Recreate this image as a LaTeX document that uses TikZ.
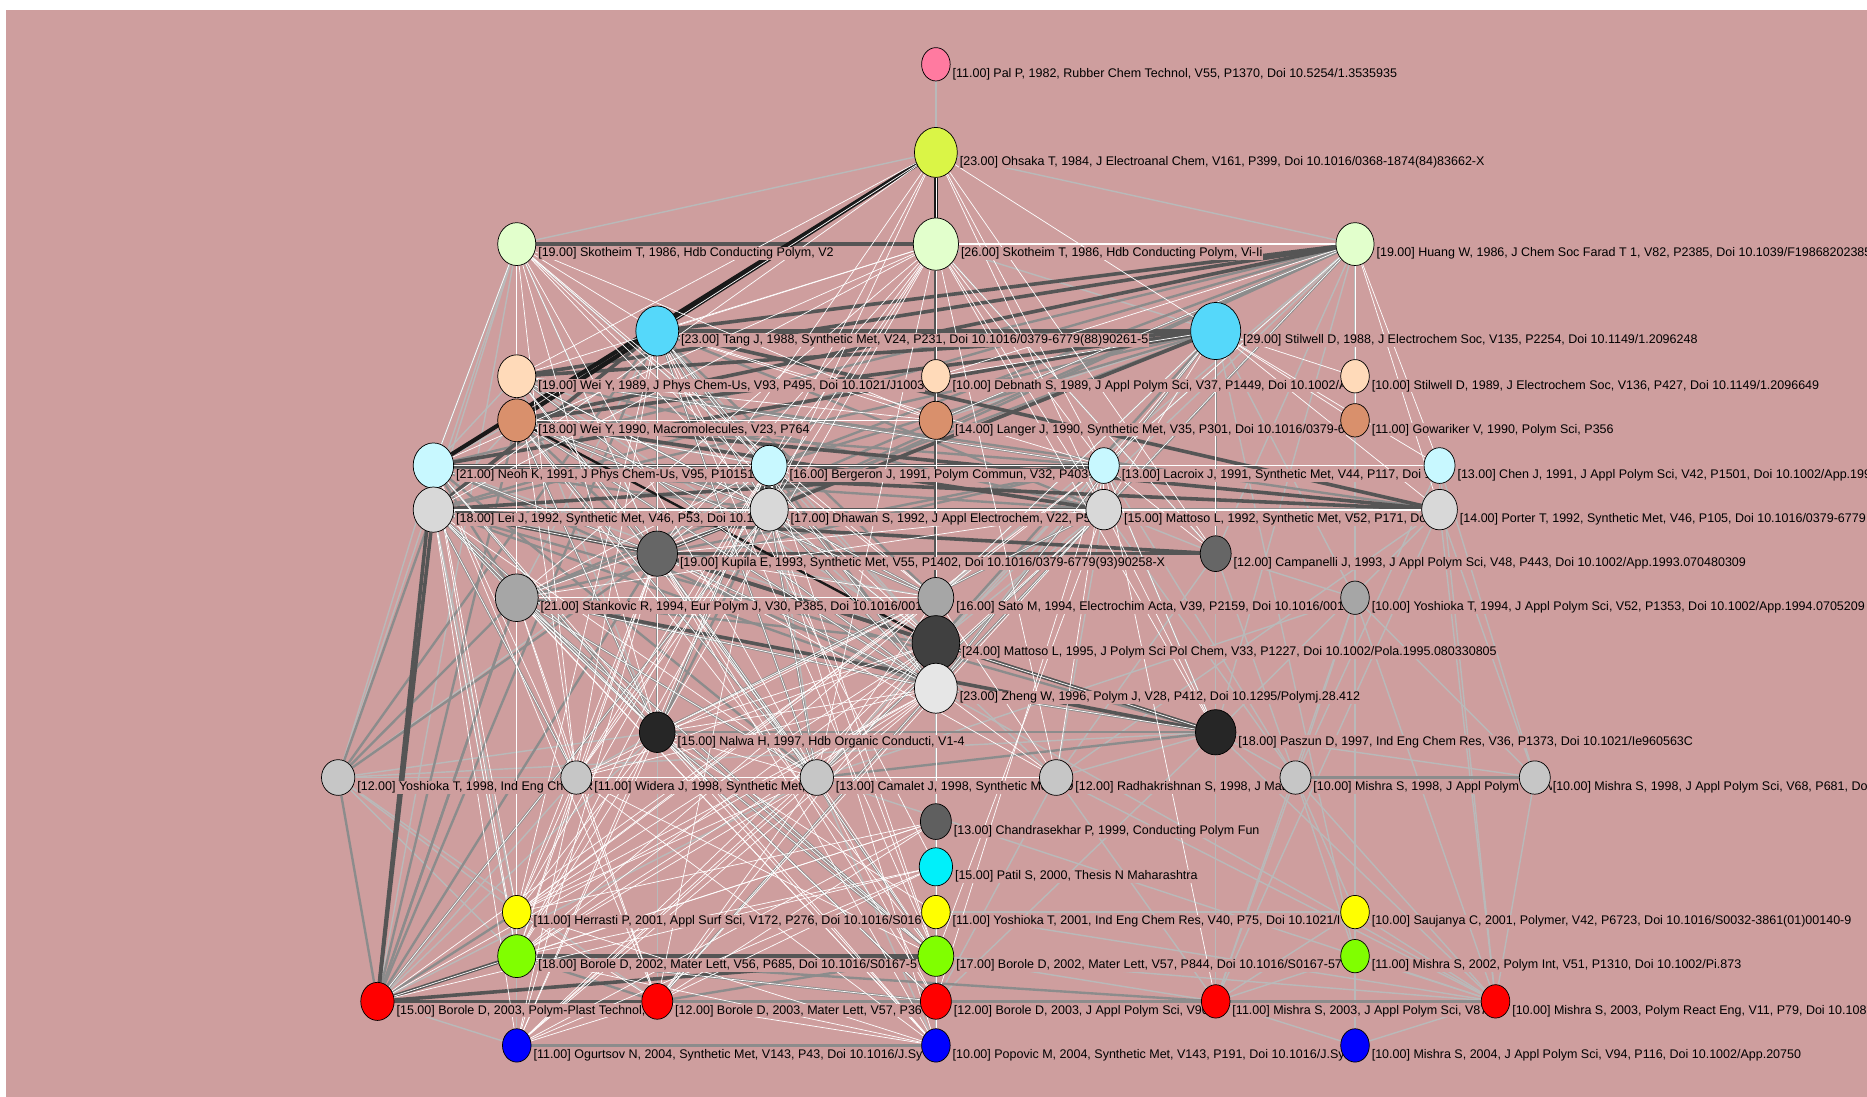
\documentclass[tikz,border=0pt]{standalone}
\usepackage{fontspec}
\setmainfont{Liberation Sans}
\usetikzlibrary{shapes.geometric, positioning}
\pgfdeclarelayer{edges}
\pgfdeclarelayer{texts}
\pgfsetlayers{edges,texts,main}

\definecolor{bgpink}{RGB}{206,158,158}
\definecolor{cPal}{RGB}{255,122,160}
\definecolor{cOhs}{RGB}{218,245,70}
\definecolor{cCream}{RGB}{226,255,204}
\definecolor{cCyan}{RGB}{85,216,250}
\definecolor{cPeach}{RGB}{255,218,185}
\definecolor{cBrown}{RGB}{217,144,108}
\definecolor{cLCyan}{RGB}{200,248,255}
\definecolor{cLGray}{RGB}{216,216,216}
\definecolor{cDGray}{RGB}{102,102,102}
\definecolor{cMGray}{RGB}{166,166,166}
\definecolor{cDD}{RGB}{64,64,64}
\definecolor{cVL}{RGB}{230,230,230}
\definecolor{cBlk}{RGB}{38,38,38}
\definecolor{cSG}{RGB}{198,198,198}
\definecolor{cCha}{RGB}{95,95,95}
\definecolor{cPat}{RGB}{0,240,250}
\definecolor{cYel}{RGB}{255,255,0}
\definecolor{cGrn}{RGB}{128,255,0}
\definecolor{cRed}{RGB}{255,0,0}
\definecolor{cBlu}{RGB}{0,0,255}
\definecolor{eL}{RGB}{185,185,185}
\definecolor{eM}{RGB}{140,140,140}
\definecolor{eD}{RGB}{85,85,85}
\definecolor{eB}{RGB}{25,25,25}

\tikzset{
  cit/.style={ellipse, draw=black, line width=0.6pt, inner sep=0pt},
  nsize/.style 2 args={minimum width=#1, minimum height=#2},
  lbl/.style={fill=bgpink, inner sep=0.6pt, font=\fontsize{10.5}{12}\selectfont, right=1pt of #1, yshift=-8pt},
  wline/.style={white, line width=0.6pt},
  lline/.style={eL, line width=1.2pt},
  mline/.style={eM, line width=2pt},
  dline/.style={eD, line width=3pt},
  bline/.style={eB, line width=3.5pt}
}

\begin{document}
\begin{tikzpicture}[x=1pt, y=-1pt]
  \useasboundingbox (0,0) rectangle (1568,921);

  % citation nodes
  \draw (786,54) node[cit, nsize={24}{28}, fill=cPal] (pal) {}
    (786,128) node[cit, nsize={36}{42}, fill=cOhs] (ohs) {}
    (434,205) node[cit, nsize={32}{36}, fill=cCream] (skoA) {}
    (786,205) node[cit, nsize={38}{44}, fill=cCream] (skoB) {}
    (1138,205) node[cit, nsize={32}{36}, fill=cCream] (hua) {}
    (552,278) node[cit, nsize={36}{42}, fill=cCyan] (tan) {}
    (1021,278) node[cit, nsize={42}{48}, fill=cCyan] (stiA) {}
    (434,316) node[cit, nsize={32}{36}, fill=cPeach] (weiA) {}
    (786,316) node[cit, nsize={24}{28}, fill=cPeach] (deb) {}
    (1138,316) node[cit, nsize={24}{28}, fill=cPeach] (stiB) {}
    (434,353) node[cit, nsize={32}{36}, fill=cBrown] (weiB) {}
    (786,353) node[cit, nsize={28}{32}, fill=cBrown] (lan) {}
    (1138,353) node[cit, nsize={24}{28}, fill=cBrown] (gow) {}
    (364,391) node[cit, nsize={34}{38}, fill=cLCyan] (neo) {}
    (646,391) node[cit, nsize={30}{34}, fill=cLCyan] (ber) {}
    (927,391) node[cit, nsize={26}{30}, fill=cLCyan] (lac) {}
    (1209,391) node[cit, nsize={26}{30}, fill=cLCyan] (che) {}
    (364,428) node[cit, nsize={34}{38}, fill=cLGray] (lei) {}
    (646,428) node[cit, nsize={32}{36}, fill=cLGray] (dha) {}
    (927,428) node[cit, nsize={30}{34}, fill=cLGray] (matA) {}
    (1209,428) node[cit, nsize={30}{34}, fill=cLGray] (por) {}
    (552,465) node[cit, nsize={34}{38}, fill=cDGray] (kup) {}
    (1021,465) node[cit, nsize={26}{30}, fill=cDGray] (cam) {}
    (434,502) node[cit, nsize={36}{40}, fill=cMGray] (sta) {}
    (786,502) node[cit, nsize={30}{34}, fill=cMGray] (sat) {}
    (1138,502) node[cit, nsize={24}{28}, fill=cMGray] (yosA) {}
    (786,540) node[cit, nsize={40}{46}, fill=cDD] (matB) {}
    (786,578) node[cit, nsize={36}{42}, fill=cVL] (zhe) {}
    (552,615) node[cit, nsize={30}{34}, fill=cBlk] (nal) {}
    (1021,615) node[cit, nsize={34}{38}, fill=cBlk] (pas) {}
    (284,653) node[cit, nsize={28}{30}, fill=cSG] (yosB) {}
    (484,653) node[cit, nsize={26}{28}, fill=cSG] (wid) {}
    (686,653) node[cit, nsize={28}{30}, fill=cSG] (cml) {}
    (887,653) node[cit, nsize={28}{30}, fill=cSG] (rad) {}
    (1088,653) node[cit, nsize={26}{28}, fill=cSG] (misA) {}
    (1289,653) node[cit, nsize={26}{28}, fill=cSG] (misB) {}
    (786,690) node[cit, nsize={26}{30}, fill=cCha] (cha) {}
    (786,728) node[cit, nsize={28}{32}, fill=cPat] (pat) {}
    (434,766) node[cit, nsize={24}{28}, fill=cYel] (her) {}
    (786,766) node[cit, nsize={24}{28}, fill=cYel] (yosC) {}
    (1138,766) node[cit, nsize={24}{28}, fill=cYel] (sau) {}
    (434,803) node[cit, nsize={32}{36}, fill=cGrn] (borA) {}
    (786,803) node[cit, nsize={30}{34}, fill=cGrn] (borB) {}
    (1138,803) node[cit, nsize={24}{28}, fill=cGrn] (misC) {}
    (317,841) node[cit, nsize={28}{32}, fill=cRed] (borC) {}
    (552,841) node[cit, nsize={26}{30}, fill=cRed] (borD) {}
    (786,841) node[cit, nsize={26}{30}, fill=cRed] (borE) {}
    (1021,841) node[cit, nsize={24}{28}, fill=cRed] (misD) {}
    (1256,841) node[cit, nsize={24}{28}, fill=cRed] (misE) {}
    (434,878) node[cit, nsize={24}{28}, fill=cBlu] (ogu) {}
    (786,878) node[cit, nsize={24}{28}, fill=cBlu] (pop) {}
    (1138,878) node[cit, nsize={24}{28}, fill=cBlu] (misF) {};

  % labels
  \begin{pgfonlayer}{texts}
    \node[lbl=pal] (pal-t) {[11.00] Pal P, 1982, Rubber Chem Technol, V55, P1370, Doi 10.5254/1.3535935};
    \node[lbl=ohs] (ohs-t) {[23.00] Ohsaka T, 1984, J Electroanal Chem, V161, P399, Doi 10.1016/0368-1874(84)83662-X};
    \node[lbl=skoA] (skoA-t) {[19.00] Skotheim T, 1986, Hdb Conducting Polym, V2};
    \node[lbl=skoB] (skoB-t) {[26.00] Skotheim T, 1986, Hdb Conducting Polym, Vi-Ii};
    \node[lbl=hua] (hua-t) {[19.00] Huang W, 1986, J Chem Soc Farad T 1, V82, P2385, Doi 10.1039/F19868202385};
    \node[lbl=tan] (tan-t) {[23.00] Tang J, 1988, Synthetic Met, V24, P231, Doi 10.1016/0379-6779(88)90261-5};
    \node[lbl=stiA] (stiA-t) {[29.00] Stilwell D, 1988, J Electrochem Soc, V135, P2254, Doi 10.1149/1.2096248};
    \node[lbl=weiA] (weiA-t) {[19.00] Wei Y, 1989, J Phys Chem-Us, V93, P495, Doi 10.1021/J1003};
    \node[lbl=deb] (deb-t) {[10.00] Debnath S, 1989, J Appl Polym Sci, V37, P1449, Doi 10.1002/A};
    \node[lbl=stiB] (stiB-t) {[10.00] Stilwell D, 1989, J Electrochem Soc, V136, P427, Doi 10.1149/1.2096649};
    \node[lbl=weiB] (weiB-t) {[18.00] Wei Y, 1990, Macromolecules, V23, P764};
    \node[lbl=lan] (lan-t) {[14.00] Langer J, 1990, Synthetic Met, V35, P301, Doi 10.1016/0379-6};
    \node[lbl=gow] (gow-t) {[11.00] Gowariker V, 1990, Polym Sci, P356};
    \node[lbl=neo] (neo-t) {[21.00] Neoh K, 1991, J Phys Chem-Us, V95, P10151,};
    \node[lbl=ber] (ber-t) {[16.00] Bergeron J, 1991, Polym Commun, V32, P403};
    \node[lbl=lac] (lac-t) {[13.00] Lacroix J, 1991, Synthetic Met, V44, P117, Doi 1};
    \node[lbl=che] (che-t) {[13.00] Chen J, 1991, J Appl Polym Sci, V42, P1501, Doi 10.1002/App.1991};
    \node[lbl=lei] (lei-t) {[18.00] Lei J, 1992, Synthetic Met, V46, P53, Doi 10.1};
    \node[lbl=dha] (dha-t) {[17.00] Dhawan S, 1992, J Appl Electrochem, V22, P5};
    \node[lbl=matA] (matA-t) {[15.00] Mattoso L, 1992, Synthetic Met, V52, P171, Do};
    \node[lbl=por] (por-t) {[14.00] Porter T, 1992, Synthetic Met, V46, P105, Doi 10.1016/0379-6779};
    \node[lbl=kup] (kup-t) {[19.00] Kupila E, 1993, Synthetic Met, V55, P1402, Doi 10.1016/0379-6779(93)90258-X};
    \node[lbl=cam] (cam-t) {[12.00] Campanelli J, 1993, J Appl Polym Sci, V48, P443, Doi 10.1002/App.1993.070480309};
    \node[lbl=sta] (sta-t) {[21.00] Stankovic R, 1994, Eur Polym J, V30, P385, Doi 10.1016/001};
    \node[lbl=sat] (sat-t) {[16.00] Sato M, 1994, Electrochim Acta, V39, P2159, Doi 10.1016/001};
    \node[lbl=yosA] (yosA-t) {[10.00] Yoshioka T, 1994, J Appl Polym Sci, V52, P1353, Doi 10.1002/App.1994.0705209};
    \node[lbl=matB] (matB-t) {[24.00] Mattoso L, 1995, J Polym Sci Pol Chem, V33, P1227, Doi 10.1002/Pola.1995.080330805};
    \node[lbl=zhe] (zhe-t) {[23.00] Zheng W, 1996, Polym J, V28, P412, Doi 10.1295/Polymj.28.412};
    \node[lbl=nal] (nal-t) {[15.00] Nalwa H, 1997, Hdb Organic Conducti, V1-4};
    \node[lbl=pas] (pas-t) {[18.00] Paszun D, 1997, Ind Eng Chem Res, V36, P1373, Doi 10.1021/Ie960563C};
    \node[lbl=yosB] (yosB-t) {[12.00] Yoshioka T, 1998, Ind Eng Chem R};
    \node[lbl=wid] (wid-t) {[11.00] Widera J, 1998, Synthetic Met, V9};
    \node[lbl=cml] (cml-t) {[13.00] Camalet J, 1998, Synthetic Met, V9};
    \node[lbl=rad] (rad-t) {[12.00] Radhakrishnan S, 1998, J Mater S};
    \node[lbl=misA] (misA-t) {[10.00] Mishra S, 1998, J Appl Polym Sci, V};
    \node[lbl=misB] (misB-t) {[10.00] Mishra S, 1998, J Appl Polym Sci, V68, P681, Doi};
    \node[lbl=cha] (cha-t) {[13.00] Chandrasekhar P, 1999, Conducting Polym Fun};
    \node[lbl=pat] (pat-t) {[15.00] Patil S, 2000, Thesis N Maharashtra};
    \node[lbl=her] (her-t) {[11.00] Herrasti P, 2001, Appl Surf Sci, V172, P276, Doi 10.1016/S016};
    \node[lbl=yosC] (yosC-t) {[11.00] Yoshioka T, 2001, Ind Eng Chem Res, V40, P75, Doi 10.1021/I};
    \node[lbl=sau] (sau-t) {[10.00] Saujanya C, 2001, Polymer, V42, P6723, Doi 10.1016/S0032-3861(01)00140-9};
    \node[lbl=borA] (borA-t) {[18.00] Borole D, 2002, Mater Lett, V56, P685, Doi 10.1016/S0167-5};
    \node[lbl=borB] (borB-t) {[17.00] Borole D, 2002, Mater Lett, V57, P844, Doi 10.1016/S0167-57};
    \node[lbl=misC] (misC-t) {[11.00] Mishra S, 2002, Polym Int, V51, P1310, Doi 10.1002/Pi.873};
    \node[lbl=borC] (borC-t) {[15.00] Borole D, 2003, Polym-Plast Technol,};
    \node[lbl=borD] (borD-t) {[12.00] Borole D, 2003, Mater Lett, V57, P36};
    \node[lbl=borE] (borE-t) {[12.00] Borole D, 2003, J Appl Polym Sci, V90};
    \node[lbl=misD] (misD-t) {[11.00] Mishra S, 2003, J Appl Polym Sci, V87};
    \node[lbl=misE] (misE-t) {[10.00] Mishra S, 2003, Polym React Eng, V11, P79, Doi 10.1081};
    \node[lbl=ogu] (ogu-t) {[11.00] Ogurtsov N, 2004, Synthetic Met, V143, P43, Doi 10.1016/J.Sy};
    \node[lbl=pop] (pop-t) {[10.00] Popovic M, 2004, Synthetic Met, V143, P191, Doi 10.1016/J.Sy};
    \node[lbl=misF] (misF-t) {[10.00] Mishra S, 2004, J Appl Polym Sci, V94, P116, Doi 10.1002/App.20750};
  \end{pgfonlayer}

  % citation links
  \begin{pgfonlayer}{edges}
    \fill[white] (0,0) rectangle (1568,921);
    \fill[bgpink] (5,8) rectangle (1568,921);
    \foreach \a/\bl in {pal/{ohs}, ohs/{skoA,hua,lan},
        skoA/{ogu,lei,neo,sta,kup,yosB,borC,ber},
        skoB/{deb,lan,sat,zhe,cha,pat,yosC,borB,borE,pop,stiA,cam},
        hua/{misF,dha,ber,lac,sat,matB,yosA,cam,pas,stiB,kup,zhe,matA},
        tan/{borD,neo,kup,sta,borC,ber,dha,nal,zhe,matB,cam},
        stiA/{misD,lan,ber,dha,sat,yosA,pas,cam,matB,zhe,misC},
        weiA/{weiB,neo,ber,dha,sat,matB,nal,sta},
        weiB/{neo,lei,sta,nal,zhe,borC,ber},
        neo/{che,lei,borC,yosB,sta,nal,dha,matB},
        lei/{borC,yosB,her,borA,sta,nal,zhe,sat},
        ber/{dha,matB,zhe,cml,yosB}, dha/{matB,nal,cml,rad},
        lac/{matB,zhe,cml,pas,misA}, che/{por,misB,misE,misA},
        por/{misE,misB,rad,pas,misD}, matA/{matB,rad,cml,misA},
        kup/{matB,zhe,nal,yosB,borC,borD}, cam/{misA,pas,misD,rad,yosA},
        sta/{yosB,borC,her,ogu,matB}, sat/{matB,zhe,cha},
        yosA/{misA,misB,sau,misC,misD,misE,cml},
        matB/{zhe,cha,borE,borB}, zhe/{borE,borB,cha,yosC},
        nal/{wid,borD,borC}, pas/{misA,misD,cml,rad,misE,misB,borE},
        yosB/{wid,nal,pas,her,borA,borD}, wid/{borC}, cml/{borC,pop},
        rad/{misD,borE,misE}, misA/{misE,misD,sau,misC}, misB/{misE},
        cha/{pat,borB,borE}, pat/{yosC,borB,borE}, her/{borA,ogu,borC},
        yosC/{borB,borE,misE,sau}, sau/{misC,misE,misD}, misC/{misE,misD,misF},
        borA/{ogu,borD}, borB/{borE,pop,misD}, borC/{ogu,borD}, borD/{borE},
        borE/{misD,pop}, misD/{misE,misF}, misE/{misF,borB,zhe,cml}}
      \foreach \b in \bl \draw[lline] (\a) -- (\b);
    \foreach \a/\bl in {hua/{lei,ber,dha,kup,neo,sta,zhe}, stiA/{lei,ber,sta,dha,cam,kup,zhe,matB},
        tan/{dha,matA,sat,kup,ber,nal,zhe,cml}, weiA/{por,matA,lac,kup,dha,sat,zhe},
        weiB/{kup,lac,dha,sat,nal,zhe,cml}, neo/{dha,ber,kup,matA,nal,sta,zhe,cml},
        lei/{dha,sta,por,nal,zhe,wid,borB}, kup/{nal,pas,cam,zhe,matB,cml,borB},
        sta/{pas,nal,borC,zhe,matB,cml,borB}, dha/{nal,zhe,cml}, ber/{zhe,nal},
        matA/{nal,zhe,cml}, lac/{kup,sta}, nal/{borB,borE}, zhe/{pas,borD},
        borC/{borE,her,kup,weiB,tan,dha,sta},
        borD/{borE,borB,borA}, yosB/{sta,borC,kup,tan,lei}, pas/{lei,cml,nal},
        ogu/{pop}, misA/{misB}, borE/{misE}, misD/{misE}, borA/{misD,borE}}
      \foreach \b in \bl \draw[mline] (\a) -- (\b);
    \foreach \a/\bl in {skoA/{skoB}, hua/{weiA,weiB,tan}, stiA/{weiA,weiB,neo,kup,tan},
        tan/{weiB,por,lei}, weiB/{por,matA}, neo/{por,lac}, lei/{lac,matA,kup,cam},
        kup/{cam,pas}, borA/{borB}, borC/{borB,borA,lei,neo,borD}, pas/{sta,kup}}
      \foreach \b in \bl \draw[dline] (\a) -- (\b);
    \draw[eD, line width=2.5pt] (skoB) -- (matB);
    \draw[bline] (ohs) -- (neo);
    \draw[bline] (ohs) -- (weiB);
    \draw[eB, line width=3pt] (ohs) -- (skoB);
    \draw[eB, line width=2pt] (weiB) -- (matB);
    \foreach \a/\bl in {ohs/{tan,stiA,ber,lac,dha,matA,lan,kup,cam,lei,weiA,deb,sat},
        skoA/{tan,neo,kup,ber,dha,nal,wid,cml,her,borA,weiB,lan,sat,matB},
        skoB/{weiA,neo,lei,ber,dha,lac,matA,kup,sta,nal,cml,cam,tan,pas,rad,wid},
        hua/{lac,matA,stiB,gow,che,por,deb,lan},
        tan/{ber,dha,lac,zhe,nal,wid,cml,borB,her,pat,lan},
        stiA/{lac,matA,por,che,cam,sat,zhe,gow,stiB,deb},
        weiA/{lac,dha,kup,sat,zhe,wid,cml,borA,lan},
        weiB/{ber,dha,sat,zhe,nal,cml,her,borB,lan},
        neo/{kup,nal,wid,borA,borD,pop,her,ber},
        ber/{kup,sta,nal,wid,borA,borB,borD,her,ogu,lac,sat},
        dha/{kup,sta,wid,cml,borA,borB,borC,pop,matB,zhe},
        lac/{cam,pas,rad,her,borE,misD,matA,sat},
        matA/{kup,sta,nal,cml,borB,borD,ogu,zhe,pas},
        lei/{kup,nal,wid,cml,borA,borB,ogu,pop,dha},
        kup/{wid,cml,rad,her,borA,borB,borE,pop,ogu,sat,zhe},
        sta/{nal,wid,cml,borA,borB,borD,borE,pop,sat,zhe},
        sat/{nal,wid,cml,her,borA,borC,rad},
        matB/{nal,wid,cml,her,borA,borD,ogu,pas},
        zhe/{nal,wid,cml,her,borA,borC,borD,ogu,pop,pas,rad},
        nal/{her,borA,borB,borE,ogu,pop,yosC,cml},
        wid/{her,borA,borB,borD,ogu,pop}, cml/{her,borA,borB,borD,borE,ogu,rad},
        cha/{her,borA,borD,ogu,borC}, pat/{borA,borD,ogu,borC},
        her/{borD,pop}, borA/{borE,pop}, borD/{pop,ogu}}
      \foreach \b in \bl \draw[wline] (\a) -- (\b);
    \draw[white, line width=1.5pt] (skoB) -- (hua);
    \draw[white, line width=1.5pt] (lei) -- (por);
    \draw[white, line width=1.2pt] (neo) -- (che);
    \draw[white, line width=1.5pt] (wid) -- (cml);
  \end{pgfonlayer}
\end{tikzpicture}
\end{document}
